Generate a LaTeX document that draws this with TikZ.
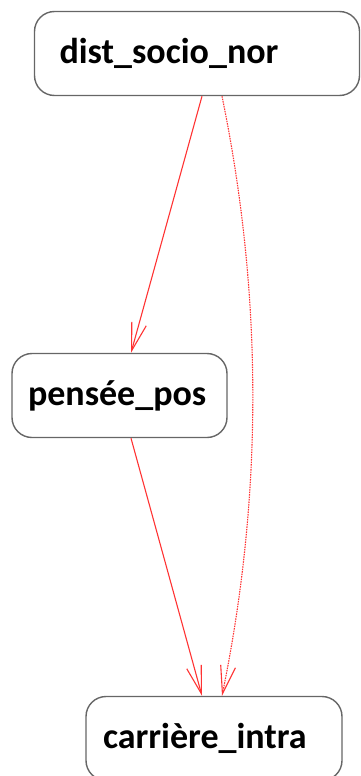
\documentclass[tikz,border=0pt]{standalone}
\usepackage{fontspec}
\setmainfont{Carlito}
\usetikzlibrary{arrows.meta}

\begin{document}
\begin{tikzpicture}[x=1pt, y=-1pt,
	var/.style={draw=black!60, line width=1.4pt, rounded corners=20pt,
		minimum height=84pt, align=left,
		font=\fontsize{36}{40}\selectfont\bfseries},
	link/.style={draw=red!80, line width=1.1pt,
		-{Straight Barb[length=28pt, width=15pt, line width=1.1pt]}}
]

\def\width{361}
\def\height{776}

\path [use as bounding box] (0,0) rectangle (\width,\height);

% NODES
\node [var, inner xsep=25pt, text width=275pt] (dist) at (197,53.5) {dist\_socio\_nor};
\node [var, inner xsep=16pt, text width=183pt] (pensee) at (119.5,395.5) {pensée\_pos};
\node [var, inner xsep=17pt, text width=222pt] (carriere) at (214,738.5) {carrière\_intra};

% ARROWS
\draw [link] ([xshift=5pt]dist.south) -- ([xshift=11.5pt]pensee.north);
\draw [link] ([xshift=11.5pt]pensee.south) -- ([xshift=-12pt]carriere.north);
\draw [link, dash pattern=on 1.5pt off 1pt] ([xshift=25pt]dist.south)
	.. controls +(41,200) and +(41,-200) .. ([xshift=8pt]carriere.north);

\end{tikzpicture}
\end{document}
